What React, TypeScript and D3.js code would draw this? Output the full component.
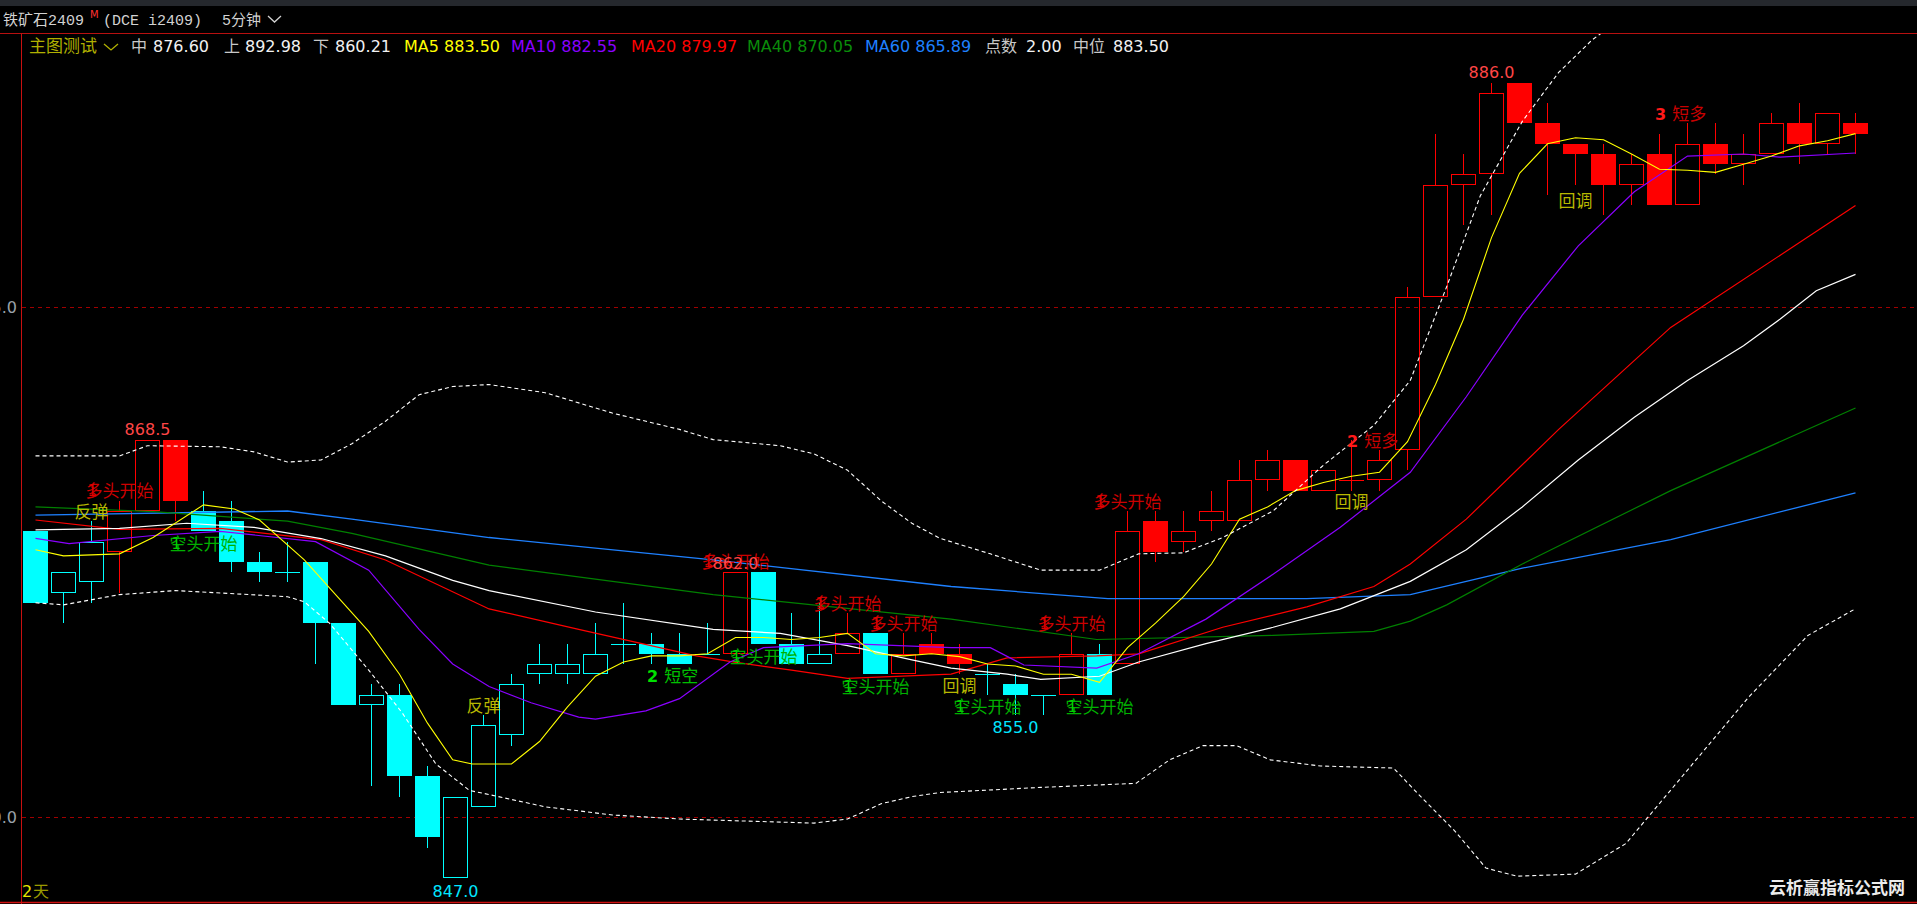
import { useEffect } from 'react';
import * as d3 from 'd3';

// 铁矿石2409, 5分钟 bars
const opens = [864.0, 861.0, 861.5, 863.0, 865.0, 868.5, 865.0, 864.5, 862.5, 862.0,
  862.5, 859.5, 855.5, 856.0, 852.0, 847.0, 850.5, 854.0, 857.0, 857.0,
  857.0, 858.5, 858.5, 858.0, 858.0, 858.0, 862.0, 858.5, 857.5, 858.0,
  859.0, 857.0, 858.5, 858.0, 857.0, 856.5, 856.0, 856.0, 858.0, 857.5,
  864.5, 863.5, 864.5, 864.5, 866.5, 867.5, 866.0, 866.5, 866.5, 868.0,
  875.5, 881.0, 881.5, 886.0, 884.0, 883.0, 882.5, 881.0, 882.5, 880.0,
  883.0, 882.0, 882.5, 884.0, 883.0, 884.0];
const highs = [864.0, 862.0, 864.5, 865.5, 868.5, 868.5, 866.0, 865.5, 863.0, 863.5,
  862.5, 859.5, 856.5, 856.5, 852.5, 851.0, 855.0, 857.0, 858.5, 858.5,
  859.5, 860.5, 859.0, 859.0, 859.5, 862.0, 862.0, 860.0, 860.5, 860.0,
  859.0, 859.0, 859.0, 858.5, 857.5, 857.0, 856.0, 859.0, 858.5, 865.0,
  865.0, 865.0, 866.0, 867.5, 868.0, 867.5, 867.0, 868.5, 868.0, 876.0,
  883.5, 882.5, 886.0, 886.0, 885.0, 883.0, 883.0, 882.5, 883.5, 884.0,
  884.0, 883.5, 884.5, 885.0, 884.5, 884.5];
const lows = [860.5, 859.5, 860.5, 861.0, 865.0, 864.5, 864.0, 862.0, 861.5, 861.5,
  857.5, 855.5, 851.5, 851.0, 848.5, 847.0, 850.5, 853.5, 856.5, 856.5,
  857.0, 857.5, 857.5, 857.5, 858.0, 858.0, 858.5, 857.5, 857.5, 858.0,
  857.0, 857.0, 858.0, 857.0, 856.0, 855.0, 855.0, 856.0, 856.0, 857.5,
  862.5, 863.0, 864.0, 864.5, 866.0, 866.0, 866.0, 866.0, 866.0, 867.0,
  875.5, 879.0, 879.5, 884.0, 880.5, 881.0, 879.5, 880.0, 880.0, 880.0,
  881.5, 881.0, 882.5, 882.0, 882.5, 882.5];
const closes = [860.5, 862.0, 863.5, 865.0, 868.5, 865.5, 864.0, 862.5, 862.0, 862.0,
  859.5, 855.5, 856.0, 852.0, 849.0, 851.0, 854.5, 856.5, 857.5, 857.5,
  858.0, 858.5, 858.0, 857.5, 858.0, 862.0, 858.5, 857.5, 858.0, 859.0,
  857.0, 858.0, 858.0, 857.5, 857.0, 856.0, 856.0, 858.0, 856.0, 864.0,
  863.0, 864.0, 865.0, 866.5, 867.5, 866.0, 867.0, 866.5, 867.5, 875.5,
  881.0, 881.5, 885.5, 884.0, 883.0, 882.5, 881.0, 882.0, 880.0, 883.0,
  882.0, 882.5, 884.0, 883.0, 884.5, 883.5];
// 1 = 多 state (red bars), -1 = 空 state (cyan bars)
const signal = [-1, -1, -1, 1, 1, 1, -1, -1, -1, -1,
  -1, -1, -1, -1, -1, -1, -1, -1, -1, -1,
  -1, -1, -1, -1, -1, 1, -1, -1, -1, 1,
  -1, 1, 1, 1, -1, -1, -1, 1, -1, 1,
  1, 1, 1, 1, 1, 1, 1, 1, 1, 1,
  1, 1, 1, 1, 1, 1, 1, 1, 1, 1,
  1, 1, 1, 1, 1, 1];

// indicator lines, [bar index, value]
const ma5 = [[0, 863.1], [1, 862.8], [3, 862.9], [4.2, 863.7], [6, 865.3], [7.1, 865.1], [8, 864.56], [9.6, 862.6],
  [11.9, 859.1], [13, 857.0], [14, 854.6], [14.9, 852.8], [15.6, 852.6], [17, 852.6], [18, 853.7], [19, 855.4],
  [20, 856.9], [21, 857.6], [22, 857.9], [23, 857.9], [24, 858.0], [25, 858.8], [26, 858.8], [27, 858.7],
  [28, 858.8], [29, 859.0], [30, 858.0], [31, 857.9], [32, 858.0], [33, 857.86], [34, 857.5], [35, 857.4],
  [36, 857.0], [37, 857.0], [38, 856.6], [39, 858.3], [40, 859.5], [41, 860.8], [42, 862.4], [43, 864.6],
  [44, 865.2], [45, 866.0], [46, 866.4], [47, 866.7], [48, 866.9], [49, 868.4], [50, 871.2], [51, 874.4],
  [52, 878.4], [53, 881.55], [54, 883.0], [55, 883.3], [56, 883.2], [57, 882.5], [58, 881.75], [59, 881.7],
  [60, 881.6], [61, 882.0], [62, 882.4], [63, 882.9], [64, 883.15], [65, 883.5]];
const ma10 = [[0, 863.66], [1.2, 863.4], [4.2, 863.8], [6.6, 864.0], [10, 863.5], [11.9, 862.1], [13.7, 859.2],
  [14.9, 857.5], [16.2, 856.4], [17.7, 855.6], [19.4, 854.9], [20, 854.8], [21.8, 855.2], [23, 855.8],
  [24.8, 857.6], [26, 858.3], [29, 858.5], [32.7, 858.3], [34.1, 858.3], [35.3, 857.45], [37.9, 857.3],
  [39.4, 858.0], [41.8, 859.7], [44.2, 861.9], [46.6, 864.2], [49.1, 866.9], [51.1, 870.6], [53.1, 874.6],
  [55.1, 878.0], [57.1, 880.65], [59, 882.4], [61, 882.5], [62.3, 882.35], [65, 882.55]];
const ma20 = [[0, 864.56], [3, 864.1], [6.6, 864.15], [10.2, 863.6], [12.5, 862.6], [16.2, 860.2], [19.4, 859.2],
  [23.6, 857.9], [24.9, 857.6], [27, 857.2], [29, 856.8], [32.7, 857.0], [34.7, 857.8], [37.9, 857.9],
  [39.4, 858.0], [42.4, 859.3], [45.4, 860.3], [47.8, 861.3], [49.1, 862.4], [51.1, 864.6], [54.4, 869.0],
  [58.4, 874.0], [65, 879.97]];
const ma40 = [[0, 865.2], [4.2, 864.97], [9, 864.5], [11.3, 863.9], [16.2, 862.35], [24.2, 860.9], [32.7, 859.7],
  [37.9, 858.7], [44.2, 858.9], [47.8, 859.1], [49.1, 859.6], [50.4, 860.4], [53.1, 862.4], [58.4, 866.0],
  [65, 870.05]];
const ma60 = [[0, 864.8], [9, 865.0], [11.3, 864.6], [16.2, 863.7], [24.2, 862.6], [32.7, 861.3], [38.3, 860.7],
  [45.4, 860.7], [49.1, 860.9], [53.1, 862.2], [58.4, 863.6], [65, 865.89]];
const bollMid = [[0, 864.07], [3, 864.15], [5.4, 864.4], [7.8, 864.2], [10.2, 863.65], [12.5, 862.8], [14.9, 861.6],
  [16.2, 861.1], [20, 860.05], [24.2, 859.2], [26.6, 859.0], [29, 858.4], [31.3, 857.7], [32.7, 857.3],
  [34.7, 857.0], [35.9, 856.75], [38, 856.9], [39.4, 857.6], [41.8, 858.5], [44.2, 859.3], [46.6, 860.2],
  [49.1, 861.55], [51.1, 863.1], [53.1, 865.2], [55.1, 867.5], [57.1, 869.6], [59, 871.4], [61, 873.1],
  [62.3, 874.4], [63.6, 875.8], [65, 876.6]];
const bollUp = [[0, 867.7], [3, 867.7], [3.4, 867.9], [4, 868.2], [6.6, 868.15], [7.8, 867.9], [9, 867.4],
  [10.2, 867.5], [11.3, 868.3], [12.5, 869.4], [13.7, 870.7], [14.9, 871.1], [16.2, 871.2], [18.2, 870.8],
  [20.6, 869.8], [23, 869.0], [24.2, 868.5], [26.6, 868.2], [27.8, 867.8], [29, 867.0], [30.2, 865.5],
  [31.3, 864.4], [32.3, 863.66], [34.1, 862.9], [35.9, 862.1], [38, 862.1], [39.4, 862.9], [41, 862.95],
  [42.4, 863.7], [44.2, 865.0], [46, 867.25], [47.8, 869.2], [49.1, 871.4], [50.4, 876.0], [51.6, 880.45],
  [53.1, 884.1], [54.4, 886.5], [55.6, 888.1], [57, 889.5], [59, 890.9], [61, 891.8], [63, 892.5], [65, 892.98]];
const bollLow = [[0, 860.5], [1, 860.4], [3, 860.9], [5, 861.1], [9, 860.8], [9.6, 860.55], [10.5, 859.5],
  [11.9, 857.2], [13.1, 855.1], [14.3, 852.6], [15.5, 851.3], [16.2, 851.1], [18.2, 850.5], [20.6, 850.1],
  [23, 849.9], [25.4, 849.8], [27.8, 849.7], [29, 849.9], [30.2, 850.65], [31.3, 851.0], [32.3, 851.2],
  [35.9, 851.45], [39.3, 851.65], [40.5, 852.8], [41.7, 853.5], [42.9, 853.5], [44.1, 852.8], [45.9, 852.5],
  [48.5, 852.4], [49.4, 851.1], [50.7, 849.3], [51.8, 847.5], [52.9, 847.1], [55, 847.2], [56.8, 848.7],
  [59, 852.3], [61.2, 855.9], [63.3, 858.9], [65, 860.21]];

// signal texts: bar index, text, kind, price level of the baseline
const notes = [
  { i: 4, text: '868.5', kind: 'hi', at: 868.73 },
  { i: 3, text: '多头开始', kind: 'long', at: 865.69 },
  { i: 2, text: '反弹', kind: 'pull', at: 864.66 },
  { i: 6, text: '空头开始', kind: 'short', at: 863.09 },
  { i: 15, text: '847.0', kind: 'lo', at: 846.08 },
  { i: 16, text: '反弹', kind: 'pull', at: 855.15 },
  { i: 22, text: '2 短空', kind: 'ss', at: 856.62 },
  { i: 25, text: '多头开始', kind: 'long', at: 862.2 },
  { i: 25, text: '862.0', kind: 'hi', at: 862.16 },
  { i: 26, text: '空头开始', kind: 'short', at: 857.55 },
  { i: 29, text: '多头开始', kind: 'long', at: 860.15 },
  { i: 31, text: '多头开始', kind: 'long', at: 859.17 },
  { i: 30, text: '空头开始', kind: 'short', at: 856.08 },
  { i: 33, text: '回调', kind: 'pull', at: 856.13 },
  { i: 34, text: '空头开始', kind: 'short', at: 855.1 },
  { i: 35, text: '855.0', kind: 'lo', at: 854.12 },
  { i: 37, text: '多头开始', kind: 'long', at: 859.17 },
  { i: 38, text: '空头开始', kind: 'short', at: 855.1 },
  { i: 39, text: '多头开始', kind: 'long', at: 865.15 },
  { i: 47, text: '回调', kind: 'pull', at: 865.15 },
  { i: 47, text: '2 短多', kind: 'sl', at: 868.14 },
  { i: 52, text: '886.0', kind: 'hi', at: 886.23 },
  { i: 55, text: '回调', kind: 'pull', at: 879.9 },
  { i: 58, text: '3 短多', kind: 'sl', at: 884.17 },
];

const yTicks = [850, 875];

const legend = [
  { text: '中', x: 131, color: '#c8c8c8', cjk: true },
  { text: '876.60', x: 153, color: '#f2f2f2' },
  { text: '上', x: 224, color: '#c8c8c8', cjk: true },
  { text: '892.98', x: 245, color: '#f2f2f2' },
  { text: '下', x: 313, color: '#c8c8c8', cjk: true },
  { text: '860.21', x: 335, color: '#f2f2f2' },
  { text: 'MA5 883.50', x: 404, color: '#ffff00' },
  { text: 'MA10 882.55', x: 511, color: '#8a00ff' },
  { text: 'MA20 879.97', x: 631, color: '#ff0000' },
  { text: 'MA40 870.05', x: 747, color: '#0a8c0a' },
  { text: 'MA60 865.89', x: 865, color: '#1e80ff' },
  { text: '点数', x: 985, color: '#c8c8c8', cjk: true },
  { text: '2.00', x: 1026, color: '#f2f2f2' },
  { text: '中位', x: 1073, color: '#c8c8c8', cjk: true },
  { text: '883.50', x: 1113, color: '#f2f2f2' },
];

const RED = '#ff0000';
const CYAN = '#00ffff';
const SANS = '"DejaVu Sans", Verdana, sans-serif';
const CJK = '"Noto Sans CJK SC", "DejaVu Sans", sans-serif';
const MONO = '"Liberation Mono", "Noto Sans CJK SC", monospace';

export default function App() {
  useEffect(() => {
    document.body.style.margin = '0';
    document.body.style.background = '#000';
  }, []);

  const W = 1917, H = 904;
  const x = d3.scaleLinear().domain([0, 65]).range([35.5, 1855.5]);
  const y = d3.scaleLinear().domain([850, 875]).range([817, 307]);
  const bw = Math.round((x(1) - x(0)) * 0.9);
  const line = d3.line<number[]>().x(d => x(d[0])).y(d => y(d[1]));
  const py = (v: number) => Math.round(y(v));

  const candles = opens.map((o, i) => {
    const c = closes[i];
    const cx = x(i);
    const col = signal[i] > 0 ? RED : CYAN;
    const top = py(Math.max(o, c));
    const bot = py(Math.min(o, c));
    const hi = py(highs[i]);
    const lo = py(lows[i]);
    if (o === c) {
      return (
        <g key={i} stroke={col}>
          <line x1={cx} x2={cx} y1={hi} y2={lo} />
          <line x1={cx - bw / 2} x2={cx + bw / 2} y1={top + 0.5} y2={top + 0.5} />
        </g>
      );
    }
    if (c > o) {
      return (
        <g key={i} stroke={col} fill="none">
          {hi < top && <line x1={cx} x2={cx} y1={hi} y2={top} />}
          {lo > bot && <line x1={cx} x2={cx} y1={bot} y2={lo} />}
          <rect x={cx - bw / 2 + 0.5} y={top + 0.5} width={bw - 1} height={bot - top - 1} />
        </g>
      );
    }
    return (
      <g key={i}>
        <line x1={cx} x2={cx} y1={hi} y2={lo} stroke={col} />
        <rect x={cx - bw / 2} y={top} width={bw} height={bot - top} fill={col} />
      </g>
    );
  });

  const noteEls = notes.map((n, k) => {
    const cx = x(n.i);
    const by = y(n.at);
    if (n.kind === 'hi' || n.kind === 'lo') {
      return (
        <text key={k} x={cx} y={by} textAnchor="middle" fontFamily={SANS} fontSize={16}
          fill={n.kind === 'hi' ? '#ff4646' : '#00e6ff'}>{n.text}</text>
      );
    }
    if (n.kind === 'long' || n.kind === 'short') {
      const col = n.kind === 'long' ? '#cc0000' : '#00b000';
      return (
        <g key={k}>
          <text x={cx} y={by} textAnchor="middle" fontFamily={CJK} fontSize={17} fill={col}>{n.text}</text>
          {/* the "1" of the signal count is printed on top of the first glyph */}
          <text x={cx - 32} y={by - 1} fontFamily={SANS} fontSize={15}
            fill={n.kind === 'long' ? '#e00000' : '#00d000'}>1</text>
        </g>
      );
    }
    if (n.kind === 'pull') {
      return (
        <text key={k} x={cx} y={by} textAnchor="middle" fontFamily={CJK} fontSize={17} fill="#b8b800">{n.text}</text>
      );
    }
    const [num, word] = n.text.split(' ');
    const col = n.kind === 'sl' ? '#c80000' : '#00c000';
    const numCol = n.kind === 'sl' ? '#ff1a1a' : '#00e000';
    return (
      <text key={k} x={cx - 4.5} y={by} fontSize={17}>
        <tspan fontFamily={SANS} fontWeight="bold" fontSize={16} fill={numCol}>{num}</tspan>
        <tspan fontFamily={CJK} fill={col} dx={6}>{word}</tspan>
      </text>
    );
  });

  const maLines = [
    { d: ma60, color: '#1e80ff', w: 1.3 },
    { d: ma40, color: '#008000', w: 1.2 },
    { d: ma20, color: '#ff0000', w: 1.2 },
    { d: bollMid, color: '#ffffff', w: 1.2 },
    { d: ma10, color: '#8a00ff', w: 1.2 },
    { d: ma5, color: '#ffff00', w: 1.1 },
  ];

  return (
    <svg width={W} height={H} style={{ display: 'block', background: '#000' }}>
      <defs>
        <clipPath id="plot">
          <rect x={22} y={34} width={W - 22} height={867} />
        </clipPath>
      </defs>
      <rect x={0} y={0} width={W} height={H} fill="#000" />
      <rect x={0} y={0} width={W} height={6} fill="#25282d" />

      {/* title row */}
      <text x={3} y={25} fontFamily={MONO} fontSize={15} fill="#d2d2d2">铁矿石2409</text>
      <text x={90} y={18} fontFamily={SANS} fontSize={10} fill="#ff3030">M</text>
      <text x={103} y={25} fontFamily={MONO} fontSize={15} fill="#d2d2d2">(DCE i2409)</text>
      <text x={222} y={25} fontFamily={MONO} fontSize={15} fill="#d2d2d2">5分钟</text>
      <path d="M268,16 L274.5,22 L281,16" fill="none" stroke="#d2d2d2" strokeWidth={1.3} />

      {/* frame */}
      <line x1={0} x2={W} y1={33.5} y2={33.5} stroke="#b81010" />
      <line x1={21.5} x2={21.5} y1={33} y2={H} stroke="#c81010" />
      <line x1={0} x2={W} y1={902.5} y2={902.5} stroke="#d01010" strokeWidth={1.5} />

      {/* legend */}
      <text x={29} y={52} fontFamily={CJK} fontSize={17} fill="#b0b000">主图测试</text>
      <path d="M104,44 L111,50 L118,44" fill="none" stroke="#b0b000" strokeWidth={1.3} />
      {legend.map((l, k) => (
        <text key={k} x={l.x} y={52} fontFamily={l.cjk ? CJK : SANS} fontSize={16} fill={l.color}>{l.text}</text>
      ))}

      {/* grid + axis */}
      {yTicks.map(t => (
        <g key={t}>
          <line x1={22} x2={W} y1={Math.round(y(t)) + 0.5} y2={Math.round(y(t)) + 0.5}
            stroke="#a00000" strokeDasharray="4 4" />
          <text x={17} y={y(t) + 6} textAnchor="end" fontFamily={SANS} fontSize={16} fill="#9aa2aa">{t.toFixed(1)}</text>
        </g>
      ))}

      <g clipPath="url(#plot)">
        {candles}
        {maLines.map((m, k) => (
          <path key={k} d={line(m.d as number[][]) ?? ''} fill="none" stroke={m.color} strokeWidth={m.w} />
        ))}
        {[bollUp, bollLow].map((b, k) => (
          <path key={k} d={line(b as number[][]) ?? ''} fill="none" stroke="#ffffff" strokeWidth={1.1} strokeDasharray="4 3" />
        ))}
        {noteEls}
      </g>

      <text x={22} y={897} fontFamily={SANS} fontSize={16} fill="#e6e600">2</text>
      <text x={33} y={897} fontFamily={CJK} fontSize={16} fill="#9a9a00">天</text>
      <text x={1905} y={894} textAnchor="end" fontFamily={CJK} fontWeight="bold" fontSize={17} fill="#ececec">云析赢指标公式网</text>
    </svg>
  );
}
